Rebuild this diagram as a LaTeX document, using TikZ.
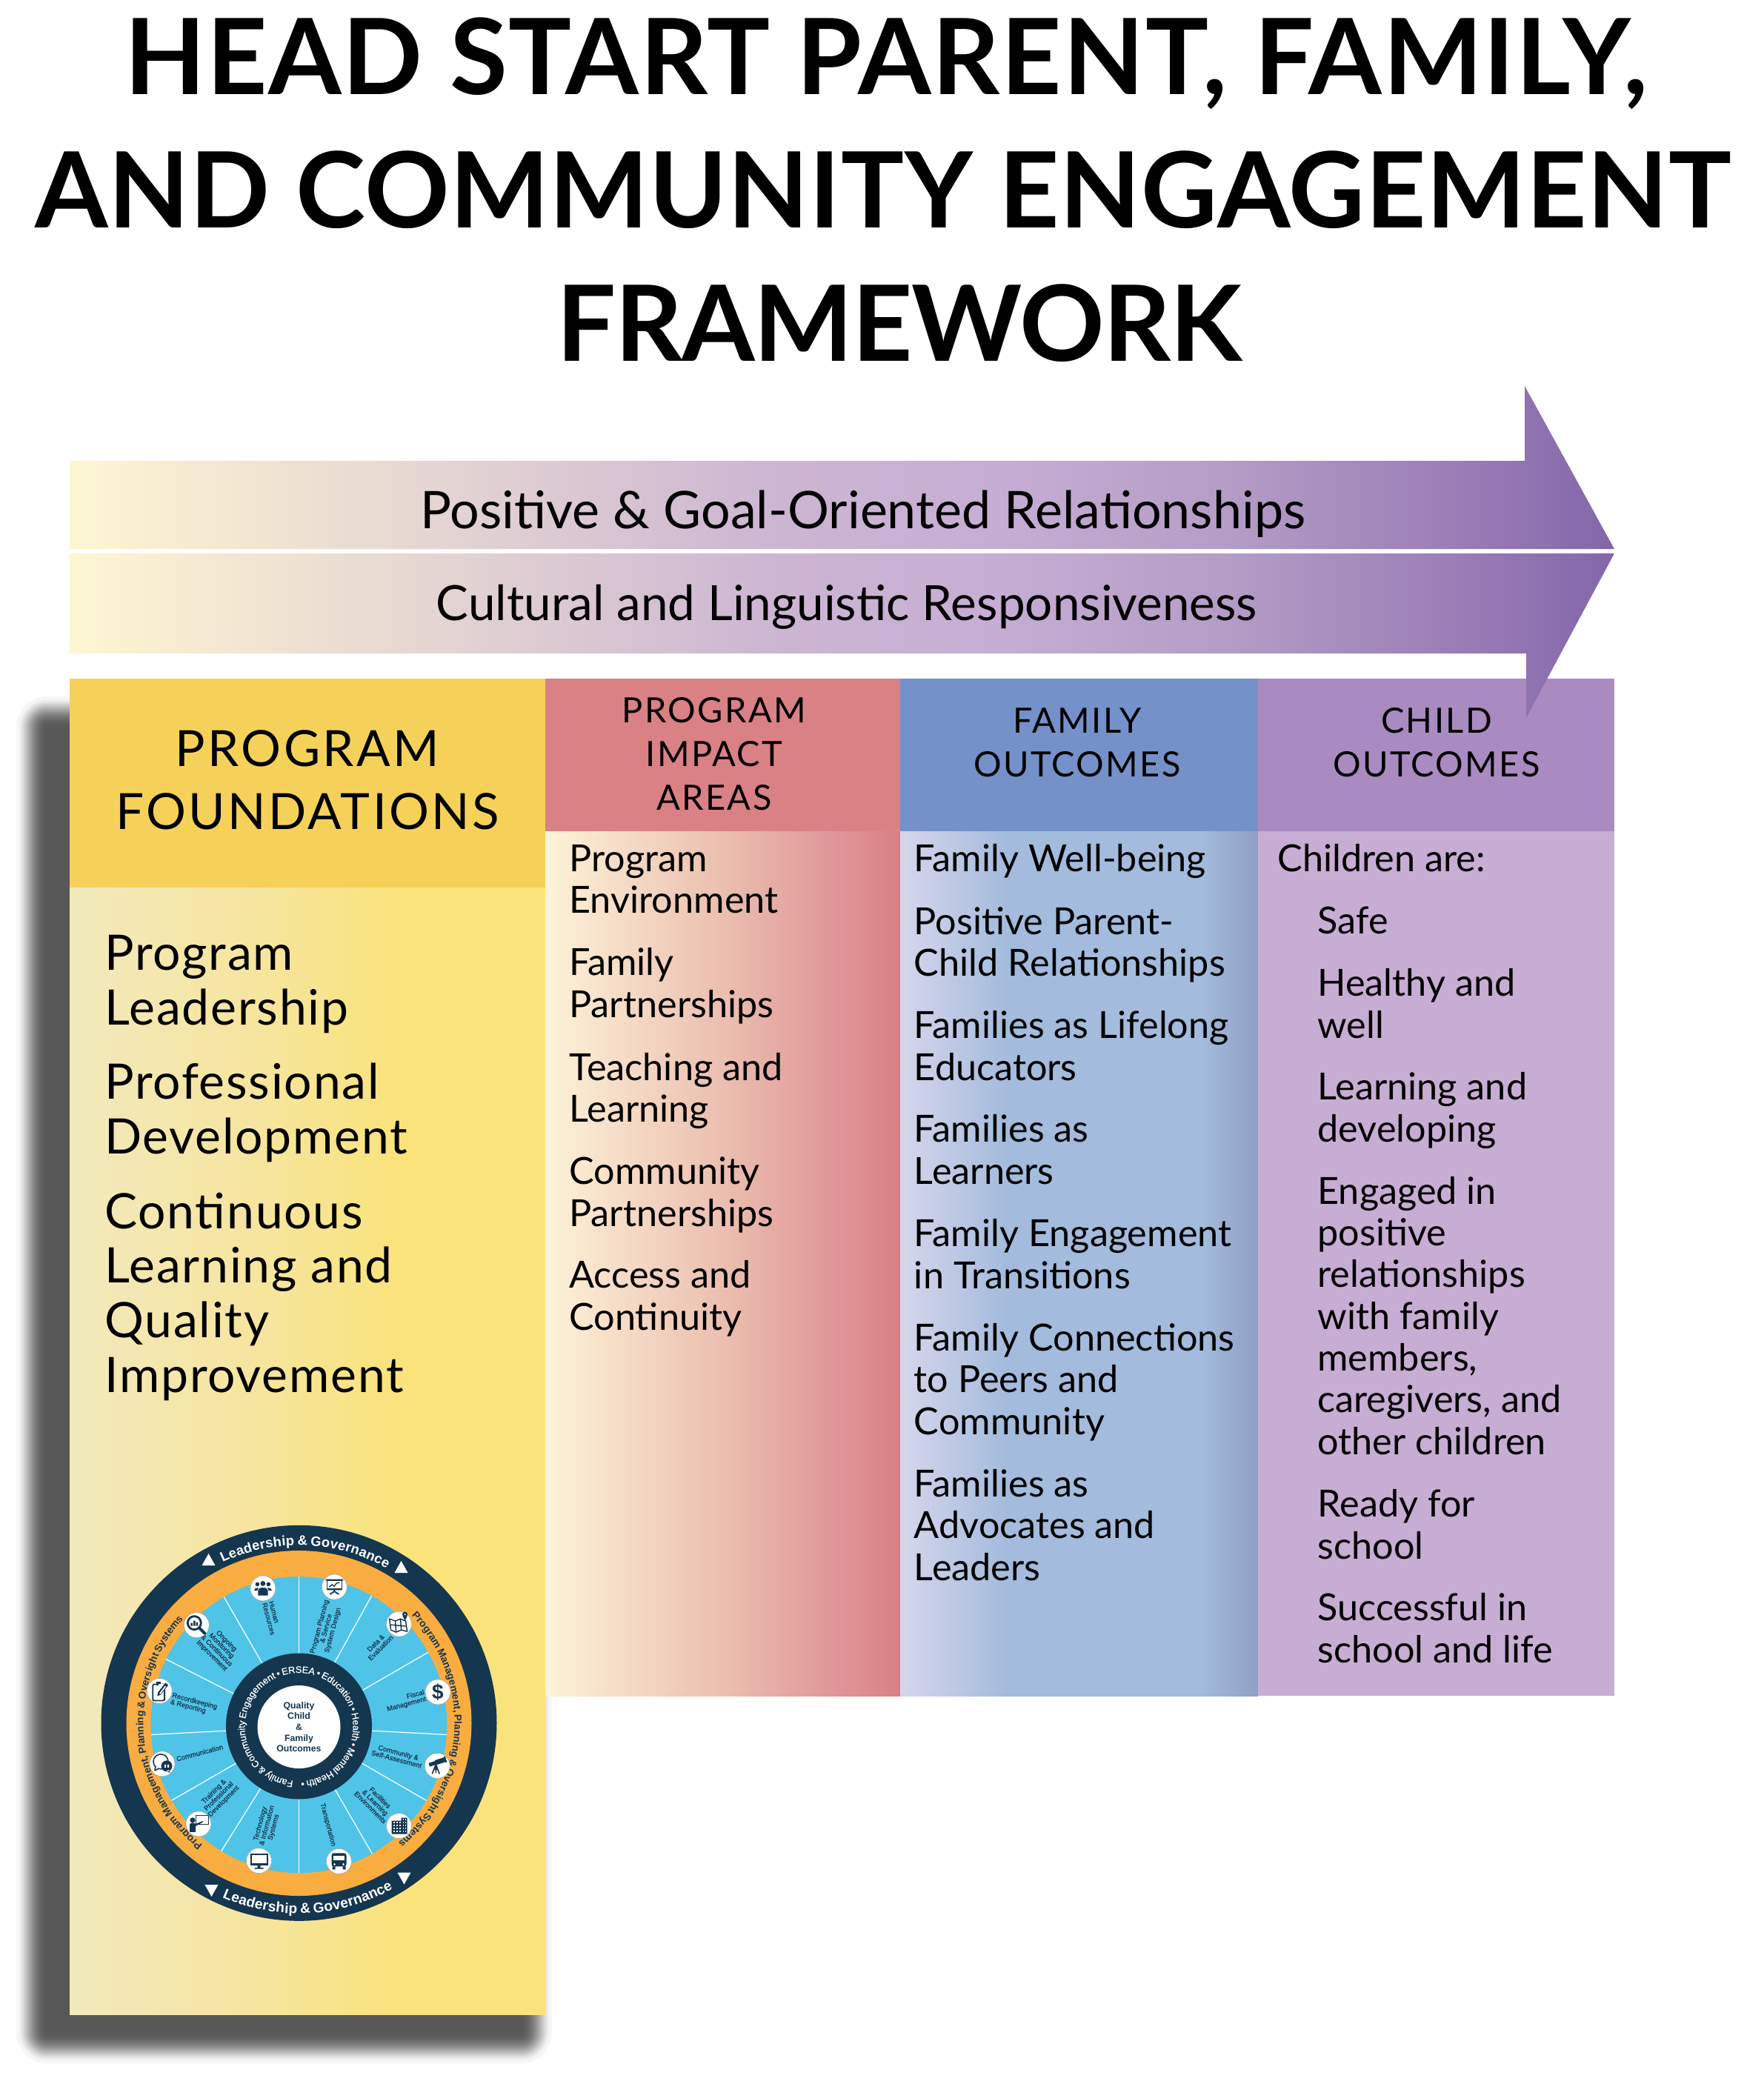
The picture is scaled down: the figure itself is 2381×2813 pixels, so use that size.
\documentclass[tikz,border=0pt]{standalone}
\usepackage{fontspec}
\setmainfont{Lato}
\newfontfamily\hdrfont[LetterSpace=5]{Lato}
\newfontfamily\bigfont[LetterSpace=2.7]{Lato}
\newfontfamily\whfont{Liberation Sans}
\newfontfamily\whmed[FakeBold=0.5]{Liberation Sans}
\definecolor{navy}{HTML}{15364F}
\definecolor{wheelorange}{HTML}{F9AC3F}
\definecolor{wheelblue}{HTML}{4FC4E8}
\definecolor{hfound}{HTML}{F6D15A}
\definecolor{himpact}{HTML}{DA8186}
\definecolor{hfamily}{HTML}{7591C9}
\definecolor{hchild}{HTML}{A98BC1}
\definecolor{bchild}{HTML}{C7ADD3}
\definecolor{aa}{HTML}{FDF6D3}\definecolor{ab}{HTML}{F8EDD2}\definecolor{ac}{HTML}{E3D3D2}
\definecolor{ad}{HTML}{CDB6D2}\definecolor{ae}{HTML}{C6ADD4}\definecolor{af}{HTML}{B49CC6}
\definecolor{ag}{HTML}{9A7DB6}\definecolor{ah}{HTML}{8366AA}
\definecolor{ia}{HTML}{FBF4DA}\definecolor{ib}{HTML}{F9E8CF}\definecolor{ic}{HTML}{EBBFAF}
\definecolor{id}{HTML}{E0989A}\definecolor{ie}{HTML}{D98085}
\definecolor{fa}{HTML}{D6D6EC}\definecolor{fb}{HTML}{A3BBDC}\definecolor{fc}{HTML}{8F9FC5}
\definecolor{pa}{HTML}{F2E9BC}\definecolor{pb}{HTML}{F6E59E}\definecolor{pc}{HTML}{FAE37A}
\pgfdeclarehorizontalshading{arrowsh}{100bp}{color(0bp)=(aa);color(25bp)=(aa);color(28bp)=(ab);color(37.5bp)=(ac);color(47.5bp)=(ad);color(55bp)=(ae);color(62.5bp)=(af);color(70bp)=(ag);color(75bp)=(ah);color(100bp)=(ah)}
\pgfdeclarehorizontalshading{impactsh}{100bp}{color(0bp)=(ia);color(25bp)=(ia);color(30bp)=(ib);color(50bp)=(ic);color(65bp)=(id);color(75bp)=(ie);color(100bp)=(ie)}
\pgfdeclarehorizontalshading{familysh}{100bp}{color(0bp)=(fa);color(25bp)=(fa);color(40bp)=(fb);color(67bp)=(fb);color(75bp)=(fc);color(100bp)=(fc)}
\pgfdeclarehorizontalshading{foundsh}{100bp}{color(0bp)=(pa);color(25bp)=(pa);color(45bp)=(pb);color(60bp)=(pc);color(75bp)=(pc);color(100bp)=(pc)}
\tikzset{
  txt/.style={inner sep=0pt,text=black,anchor=base west,align=left},
  titleline/.style={inner sep=0pt,text=black,anchor=base,font=\fontsize{71}{90}\selectfont\bfseries},
  arrowtxt/.style={inner sep=0pt,text=black,anchor=base},
  item/.style={txt,font=\fontsize{25.2}{28.15}\selectfont},
  bigitem/.style={txt,font=\bigfont\fontsize{33}{36.8}\selectfont},
  hdr/.style={inner sep=0pt,text=black,anchor=base,align=center,font=\hdrfont\fontsize{23.5}{29.5}\selectfont},
  spoke/.style={white,line width=0.6pt},
  icondisc/.style={circle,fill=white,draw=black!35,line width=0.3pt,minimum size=17pt,inner sep=0pt},
  wl/.style={inner sep=0pt,text=navy,font=\whmed\fontsize{4.65}{4.65}\selectfont},
  il/.style={draw=navy,line width=0.7pt,fill=none,line join=round},
  ringchar/.style={inner sep=0pt,anchor=base},
}
\newcommand\placechar[6]{\node[ringchar,rotate=#2,text=#4] (rc#6) at (#1:#3) {#5};}
\ExplSyntaxOn
\fp_new:N \l_ring_w_fp
\fp_new:N \l_ring_s_fp
\fp_new:N \l_ring_t_fp
\fp_new:N \l_ring_dir_fp
\fp_new:N \l_ring_cw_fp
\int_new:N \l_ring_n_int
\int_new:N \g_ring_id_int
\box_new:N \l_ring_box
\tl_new:N \l_ring_ang_tl
\tl_new:N \l_ring_rot_tl
\cs_new_protected:Npn \ring_measure:nn #1#2 {
  \hbox_set:Nn \l_ring_box {
    \pgfinterruptpicture
    #1 \str_if_eq:nnTF {#2}{~}{\kern .2em}{#2}
    \endpgfinterruptpicture
  }
}
\NewDocumentCommand\ringtext{mmmmmm}{
  \fp_zero:N \l_ring_w_fp
  \int_zero:N \l_ring_n_int
  \str_map_inline:nn {#6}{
    \ring_measure:nn {#4}{##1}
    \fp_add:Nn \l_ring_w_fp { \dim_to_fp:n { \box_wd:N \l_ring_box } }
    \int_incr:N \l_ring_n_int
  }
  \fp_set:Nn \l_ring_dir_fp { sign(#2-(#3)) }
  \fp_set:Nn \l_ring_t_fp { ( abs(#2-(#3)) * pi/180 * (#1) * 0.5 - \l_ring_w_fp ) / (\l_ring_n_int - 1) }
  \fp_zero:N \l_ring_s_fp
  \str_map_inline:nn {#6}{
    \ring_measure:nn {#4}{##1}
    \fp_set:Nn \l_ring_cw_fp { \dim_to_fp:n { \box_wd:N \l_ring_box } }
    \tl_set:Nx \l_ring_ang_tl { \fp_eval:n { round( #2 - \l_ring_dir_fp * ((\l_ring_s_fp + \l_ring_cw_fp/2) / ((#1)*0.5)) * 180/pi , 3) } }
    \tl_set:Nx \l_ring_rot_tl { \fp_eval:n { round( \l_ring_ang_tl - \l_ring_dir_fp * 90 , 3) } }
    \str_if_eq:nnF {##1}{~}{
      \int_gincr:N \g_ring_id_int
      \placechar{\l_ring_ang_tl}{\l_ring_rot_tl}{#1}{#5}{#4 ##1}{\int_use:N \g_ring_id_int}
    }
    \fp_add:Nn \l_ring_s_fp { \l_ring_cw_fp + \l_ring_t_fp }
  }
}
\ExplSyntaxOff
\begin{document}
\begin{tikzpicture}[x=0.5pt,y=-0.5pt]
\useasboundingbox (0,0) rectangle (2381,2813);
% title
\node[titleline] (t1) at (1196,127) {\addfontfeature{LetterSpace=1.2}HEAD START PARENT, FAMILY,};
\node[titleline] (t2) at (1192,307) {\addfontfeature{LetterSpace=0.4}AND COMMUNITY ENGAGEMENT};
\node[titleline] (t3) at (1214,487) {\addfontfeature{LetterSpace=-1}FRAMEWORK};
% shadow
\foreach \i in {0,...,29}{
  \pgfmathsetmacro{\dd}{42*(0.5-sin(asin(1-2*\i/29)/3))}
  \pgfmathsetlengthmacro{\rc}{max(1,(42-\dd)*0.5)}
  \fill[black,opacity=0.036,rounded corners=\rc]
    ({22+\dd},{940+\dd}) rectangle ({745-\dd},{2785-\dd});
}
% columns
\shade[shading=foundsh] (94,1198) rectangle (736,2719);
\fill[hfound] (94,916) rectangle (736,1198);
\shade[shading=impactsh] (736,1122) rectangle (1215,2289);
\fill[himpact] (736,916) rectangle (1215,1122);
\shade[shading=familysh] (1215,1122) rectangle (1698,2289);
\fill[hfamily] (1215,916) rectangle (1698,1122);
\fill[bchild] (1698,1122) rectangle (2179,2289);
\fill[hchild] (1698,916) rectangle (2179,1122);
% arrows
\shade[shading=arrowsh] (94,622) -- (2058,622) -- (2058,521) -- (2179,741) -- (94,741) -- cycle;
\shade[shading=arrowsh] (94,747) -- (2179,747) -- (2060,969) -- (2060,882) -- (94,882) -- cycle;
\node[arrowtxt,font=\fontsize{35}{40}\selectfont] (a1) at (1165,713) {Positive \& Goal-Oriented Relationships};
\node[arrowtxt,font=\fontsize{32.8}{36}\selectfont] (a2) at (1143,837) {Cultural and Linguistic Responsiveness};
% headers
\node[hdr,font=\hdrfont\fontsize{33.7}{42.5}\selectfont] (h1) at (415,1119.5) {PROGRAM\\FOUNDATIONS};
\node[hdr] (h2) at (964,1093.5) {PROGRAM\\IMPACT\\AREAS};
\node[hdr] (h3) at (1454,1048) {FAMILY\\OUTCOMES};
\node[hdr] (h4) at (1939,1048) {CHILD\\OUTCOMES};
% foundations
\node[bigitem] (p1) at (141,1383.5) {Program\\Leadership};
\node[bigitem] (p2) at (141,1557) {Professional\\Development};
\node[bigitem] (p3) at (141,1879) {Continuous\\Learning and\\Quality\\Improvement};
% impact
\node[item] (i1) at (768,1232.6) {Program\\Environment};
\node[item] (i2) at (768,1373) {Family\\Partnerships};
\node[item] (i3) at (768,1514.5) {Teaching and\\Learning};
\node[item] (i4) at (768,1655) {Community\\Partnerships};
\node[item] (i5) at (768,1795) {Access and\\Continuity};
% family
\node[item] (f1) at (1233.5,1176.5) {Family Well-being};
\node[item] (f2) at (1233.5,1317.5) {Positive Parent-\\Child Relationships};
\node[item] (f3) at (1233.5,1458) {Families as Lifelong\\Educators};
\node[item] (f4) at (1233.5,1598) {Families as\\Learners};
\node[item] (f5) at (1233.5,1739) {Family Engagement\\in Transitions};
\node[item] (f6) at (1233.5,1936) {Family Connections\\to Peers and\\Community};
\node[item] (f7) at (1233.5,2133) {Families as\\Advocates and\\Leaders};
% child
\node[item] (c0) at (1724,1176.5) {Children are:};
\node[item] (c1) at (1778,1260) {Safe};
\node[item] (c2) at (1778,1401) {Healthy and\\well};
\node[item] (c3) at (1778,1541) {Learning and\\developing};
\node[item] (c4) at (1778,1963) {Engaged in\\positive\\relationships\\with family\\members,\\caregivers, and\\other children};
\node[item] (c5) at (1778,2104) {Ready for\\school};
\node[item] (c6) at (1778,2244) {Successful in\\school and life};
% wheel
\begin{scope}[shift={(403.5,2331)},x=0.5pt,y=0.5pt]
  \fill[navy] (0,5.2) circle[radius=267];
  \fill[wheelorange] (0,5) circle[radius=233];
  \begin{scope}
    \clip (0,2.9) circle[radius=200];
    \fill[wheelblue] (0,2.9) circle[radius=200];
    \foreach \a in {90,61,30,-3,-30,-60,-90,-122,-150,-177,-207,-240}
      \draw[spoke] (\a:90) -- (\a:215);
  \end{scope}
  \fill[navy] (0,1) circle[radius=98.5];
  \fill[white] (0,0) circle[radius=56];
  \node[inner sep=0pt,text=navy,align=center,font=\whfont\bfseries\fontsize{6.15}{7.35}\selectfont] (core) at (0,0) {Quality\\Child\\\&\\Family\\Outcomes};
  % ring texts
  \begin{scope}[shift={(0,5.2)}]
    \ringtext{240}{115.4}{60.4}{\whfont\bfseries\fontsize{9.2}{9.2}\selectfont}{white}{Leadership & Governance}
    \ringtext{257}{246.2}{299.6}{\whfont\bfseries\fontsize{9.6}{9.6}\selectfont}{white}{Leadership & Governance}
    \ringtext{210}{43.6}{-50.3}{\whfont\bfseries\fontsize{6.8}{6.8}\selectfont}{navy}{Program Management, Planning & Oversight Systems}
    \ringtext{210}{231.7}{138}{\whfont\bfseries\fontsize{6.8}{6.8}\selectfont}{navy}{Program Management, Planning & Oversight Systems}
  \end{scope}
  \ringtext{73}{264}{-88}{\whmed\fontsize{6.4}{6.4}\selectfont}{white}{Family & Community Engagement • ERSEA • Education • Health • Mental Health •}
  % triangles
  \fill[white] (-122,234) -- (-131,218) -- (-113,218) -- cycle;
  \fill[white] (138,224) -- (129,208) -- (147,208) -- cycle;
  \fill[white] (-118,-229) -- (-127,-213) -- (-109,-213) -- cycle;
  \fill[white] (142,-212.5) -- (133,-196.5) -- (151,-196.5) -- cycle;
  % spoke labels
  \node[wl,rotate=-75,align=left] (l1) at (-36.3,147) {Human\\Resources};
  \node[wl,rotate=75,align=center] (l2) at (37,133) {Program Planning\\\& Service\\System Design};
  \node[wl,rotate=45,align=center] (l3) at (107,110) {Data \&\\Evaluation};
  \node[wl,rotate=15,align=right] (l4) at (144,35) {Fiscal\\Management};
  \node[wl,rotate=-15,align=center] (l5) at (133,-39) {Community \&\\Self-Assessment};
  \node[wl,rotate=-45,align=center] (l6) at (103,-102) {Facilities\\\& Learning\\Environments};
  \node[wl,rotate=-75,align=center] (l7) at (39,-132) {Transportation};
  \node[wl,rotate=75,align=center] (l8) at (-43,-133) {Technology\\\& Information\\Systems};
  \node[wl,rotate=45,align=center] (l9) at (-108,-94) {Training \&\\Professional\\Development};
  \node[wl,rotate=15,align=center] (l10) at (-134,-35) {Communication};
  \node[wl,rotate=-15,align=left] (l11) at (-142,30) {Recordkeeping\\\& Reporting};
  \node[wl,rotate=-45,align=center] (l12) at (-108,106) {Ongoing\\Monitoring\\\& Continuous\\Improvement};
  % icon discs
  \node[icondisc] (d1) at (-48.6,187.1) {};
  \node[icondisc] (d2) at (47.8,189) {};
  \node[icondisc] (d3) at (135.1,138.9) {};
  \node[icondisc] (d4) at (187.5,47.1) {};
  \node[icondisc] (d5) at (186.8,-52.4) {};
  \node[icondisc] (d6) at (135.1,-133.6) {};
  \node[icondisc] (d7) at (54,-181.4) {};
  \node[icondisc] (d8) at (-54,-180.6) {};
  \node[icondisc] (d9) at (-135.5,-130.9) {};
  \node[icondisc] (d10) at (-184.5,-49.8) {};
  \node[icondisc] (d11) at (-188.3,48.6) {};
  \node[icondisc] (d12) at (-138.2,137.4) {};
  % people
  \begin{scope}[shift={(-48.6,187.1)}]
    \fill[navy] (-7.5,5.5) circle[radius=2.8] (7.5,5.5) circle[radius=2.8] (0,6.5) circle[radius=3.4];
    \fill[navy] (-12,-3) .. controls (-12,2) and (-3,2) .. (-3,-3) -- cycle;
    \fill[navy] (12,-3) .. controls (12,2) and (3,2) .. (3,-3) -- cycle;
    \fill[navy,draw=white,line width=0.4pt] (-7,-10) -- (-7,-3) .. controls (-7,3) and (7,3) .. (7,-3) -- (7,-10) -- cycle;
  \end{scope}
  % presentation
  \begin{scope}[shift={(47.8,189)}]
    \draw[il] (-10,-3) rectangle (10,9);
    \draw[navy,line width=0.9pt] (-12,9.5) -- (12,9.5) (-10,-3.5) -- (10,-3.5) (0,-3.5) -- (0,-6) (0,-6) -- (-6,-10) (0,-6) -- (6,-10);
    \draw[navy,line width=0.7pt] (-7,0) -- (-3,3) -- (0,1) -- (3,5) -- (7,6);
  \end{scope}
  % map
  \begin{scope}[shift={(135.1,138.9)}]
    \draw[il] (-13,7) -- (-5,4) -- (2,7) -- (9,4) -- (11,-10) -- (3,-8) -- (-4,-11) -- (-11,-8) -- cycle (-5,4) -- (-4,-11) (2,7) -- (3,-8) (-12,-1) -- (10,-3);
    \fill[navy] (8,13) circle[radius=3.6] (5,11) -- (8,4) -- (11,11) -- cycle;
    \fill[white] (8,13) circle[radius=1.2];
  \end{scope}
  % dollar
  \node[inner sep=0pt,text=navy,font=\whfont\bfseries\fontsize{14}{14}\selectfont] (dollar) at (187.5,47.1) {\$};
  % telescope
  \begin{scope}[shift={(186.8,-52.4)}]
    \fill[navy,rotate=18] (-10,2) rectangle (-1,7) (-1,1.5) rectangle (12,8);
    \fill[navy,rotate=18] (12,0.5) rectangle (14,9);
    \draw[navy,line width=0.8pt] (-2,2) -- (-7,-11) (-2,2) -- (3,-11) (-2,2) -- (-2,-10) (-5,-5) -- (1,-5);
  \end{scope}
  % building
  \begin{scope}[shift={(135.1,-133.6)}]
    \fill[navy] (-10,-11) rectangle (3,7) (3,-11) rectangle (11,11);
    \foreach \xx in {-8,-4,0}\foreach \yy in {-8,-4,0,4}
      \fill[white] (\xx,\yy) rectangle ++(2,2);
    \foreach \xx in {5,8}\foreach \yy in {-8,-4,0,4,8}
      \fill[white] (\xx,\yy) rectangle ++(1.6,1.6);
  \end{scope}
  % bus
  \begin{scope}[shift={(54,-181.4)}]
    \fill[navy,rounded corners=1.5pt] (-10,-7) rectangle (10,11);
    \fill[white] (-7.5,1) rectangle (7.5,7);
    \fill[white] (-6,-4) circle[radius=1.5] (6,-4) circle[radius=1.5];
    \fill[navy] (-9,-11) rectangle (-5,-7) (5,-11) rectangle (9,-7);
  \end{scope}
  % monitor
  \begin{scope}[shift={(-54,-180.6)}]
    \fill[navy] (-12,-6) rectangle (12,10);
    \fill[white] (-10,-3) rectangle (10,8);
    \fill[navy] (-2,-10) rectangle (2,-6) (-6,-11) rectangle (6,-9.5);
  \end{scope}
  % teacher
  \begin{scope}[shift={(-135.5,-130.9)}]
    \draw[draw=navy,line width=0.5pt,fill=white] (-4,-1) rectangle (13,11);
    \fill[navy] (-8,5) circle[radius=3.6];
    \fill[navy] (-12,-11) -- (-12,-1) .. controls (-12,2) and (-5,2) .. (-4,0) -- (6,4) -- (6,2.5) -- (-4,-3) -- (-4,-11) -- cycle;
  \end{scope}
  % chat
  \begin{scope}[shift={(-184.5,-49.8)}]
    \draw[il,line width=0.8pt] (-2,3) circle[radius=10];
    \fill[white] (-7,-9) -- (-9,-3) -- (-3,-5) -- cycle;
    \draw[il,line width=0.8pt] (-9,-3) -- (-10,-9) -- (-4,-6);
    \fill[navy] (6,-3) circle[radius=7.5] (9,-8) -- (11,-12) -- (5,-10) -- cycle;
    \fill[white] (3,-5) rectangle (5,-1) (7,-5) rectangle (9,-1);
  \end{scope}
  % clipboard
  \begin{scope}[shift={(-188.3,48.6)}]
    \draw[il,line width=0.9pt,rounded corners=1pt] (-9,-13) rectangle (7,9);
    \fill[navy] (-4,7) rectangle (2,12);
    \fill[white] (-1,-2) rectangle (9,9);
    \draw[navy,line width=0.9pt] (7,5) -- (7,-13) (-9,-13) -- (7,-13);
    \fill[navy] (-3,-7) -- (-2,-2) -- (8,11) -- (12,8) -- (2,-5) -- cycle;
    \fill[white] (0,-3.4) -- (7.6,7) -- (9,6) -- (1.4,-4.4) -- cycle;
  \end{scope}
  % magnifier
  \begin{scope}[shift={(-138.2,137.4)}]
    \draw[navy,line width=1.4pt] (-3,3) circle[radius=9];
    \draw[navy,line width=2pt,line cap=round] (4,-4) -- (11,-11);
    \fill[navy] (-8,-1) rectangle (-5.5,3) (-4.3,-1) rectangle (-1.8,6) (-0.6,-1) rectangle (1.9,4);
  \end{scope}
\end{scope}
\end{tikzpicture}
\end{document}
